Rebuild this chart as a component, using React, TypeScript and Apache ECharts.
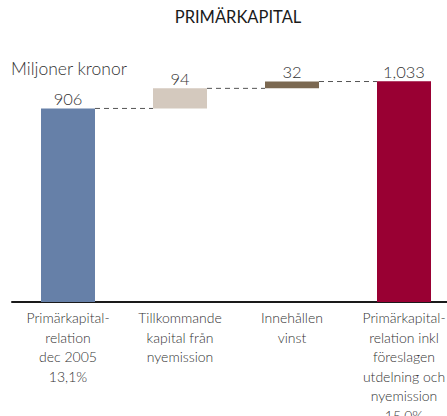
import React, { useEffect, useRef } from "react";
import * as echarts from "echarts";

const categories = [
  "Primärkapital-\nrelation\ndec 2005\n13,1%",
  "Tillkommande\nkapital från\nnyemission",
  "Innehållen\nvinst",
  "Primärkapital-\nrelation inkl\nföreslagen\nutdelning och\nnyemission\n15,0%",
];
const baseValues = [0, 906, 1000, 0];
const barValues = [906, 94, 32, 1033];
const barColors = ["#6680A8", "#D4C9BE", "#7B6851", "#990033"];
const connectorLevels = [906, 1000, 1032];

const FONT = "Lato, 'Open Sans', sans-serif";

export default function App() {
  const ref = useRef<HTMLDivElement>(null);
  useEffect(() => {
    if (!ref.current) return;
    const chart = echarts.init(ref.current, undefined, { renderer: "svg" });
    const option: any = {
      animation: false,
      graphic: [
        {
          type: "text",
          x: 238,
          y: 17,
          style: {
            text: "PRIMÄRKAPITAL",
            font: `400 16.5px ${FONT}`,
            fill: "#1a1a1a",
            textAlign: "center",
            textVerticalAlign: "middle",
          },
        },
        {
          type: "text",
          x: 11,
          y: 68,
          style: {
            text: "Miljoner kronor",
            font: `300 17.5px ${FONT}`,
            fill: "#333",
            textVerticalAlign: "middle",
          },
        },
      ],
      grid: { left: 12, right: 0, top: 67, bottom: 114, containLabel: false, outerBoundsMode: "none" },
      xAxis: {
        type: "category",
        data: categories,
        axisLine: { show: true, lineStyle: { color: "#1a1a1a", width: 2 } },
        axisTick: { show: false },
        axisLabel: {
          interval: 0,
          margin: 6,
          fontFamily: FONT,
          fontSize: 14,
          fontWeight: 300,
          lineHeight: 19.5,
          color: "#333",
          verticalAlign: "top",
          hideOverlap: false,
        },
      },
      yAxis: { type: "value", min: 0, max: 1100, show: false, splitLine: { show: false } },
      series: [
        {
          type: "bar",
          stack: "w",
          data: baseValues,
          itemStyle: { color: "transparent" },
          barWidth: 54,
          silent: true,
        },
        {
          type: "bar",
          stack: "w",
          barWidth: 54,
          data: barValues.map((v, i) => ({ value: v, itemStyle: { color: barColors[i] } })),
          label: {
            show: true,
            position: "top",
            distance: 1,
            fontFamily: FONT,
            fontSize: 16.5,
            fontWeight: 300,
            color: "#333",
            formatter: (p: any) => Number(p.value).toLocaleString("en-US"),
          },
        },
        {
          type: "custom",
          data: connectorLevels.map((v, i) => [i, v]),
          encode: { x: 0, y: 1 },
          z: 1,
          renderItem: (params: any, api: any) => {
            const i = api.value(0);
            const v = api.value(1);
            const p = api.coord([i, v]);
            const n = api.coord([i + 1, v]);
            return {
              type: "line",
              shape: { x1: p[0] + 27, y1: p[1], x2: n[0] - 27, y2: p[1] },
              style: { stroke: "#555", lineWidth: 1, lineDash: [5, 4] },
            };
          },
        },
      ],
    };
    chart.setOption(option);
    return () => chart.dispose();
  }, []);
  return (
    <div style={{ position: "absolute", left: 0, top: 0, width: 447, height: 416, overflow: "hidden" }}>
      <div ref={ref} style={{ width: 460, height: 416 }} />
    </div>
  );
}
